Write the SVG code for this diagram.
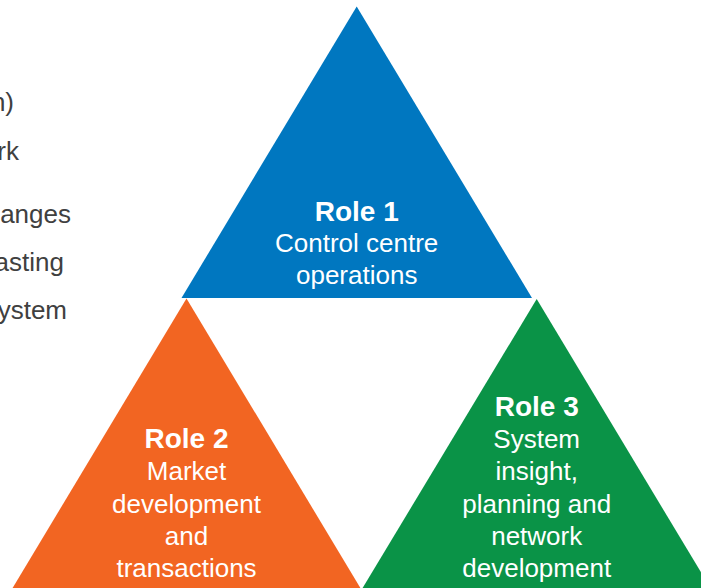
<svg xmlns="http://www.w3.org/2000/svg" width="701" height="588" viewBox="0 0 701 588">
  <style>
    .side { font-family: "Liberation Sans", Arial, sans-serif; font-size: 26px; fill: #404040; text-anchor: end; }
    .label { font-family: "Liberation Sans", Arial, sans-serif; fill: #ffffff; text-anchor: middle; }
    .title { font-size: 28px; font-weight: bold; }
    .body { font-size: 26px; }
  </style>
  <rect width="701" height="588" fill="#ffffff"/>

  <!-- list text clipped at the left edge -->
  <g id="side-list">
    <text class="side" x="14" y="111">n)</text>
    <text class="side" x="19" y="160">rk</text>
    <text class="side" x="71" y="223">anges</text>
    <text class="side" x="64" y="271">asting</text>
    <text class="side" x="67" y="319">ystem</text>
  </g>

  <g id="connectors"></g>

  <g id="role1">
    <polygon points="356.7,6.5 181.5,298 532,298" fill="#0077c0"/>
    <text class="label title" x="356.7" y="221">Role 1</text>
    <text class="label body" x="356.7" y="252">Control centre</text>
    <text class="label body" x="356.7" y="284">operations</text>
  </g>

  <g id="role2">
    <polygon points="186.5,298.5 12,589 361,589" fill="#f26522"/>
    <text class="label title" x="186.5" y="448">Role 2</text>
    <text class="label body" x="186.5" y="480">Market</text>
    <text class="label body" x="186.5" y="513">development</text>
    <text class="label body" x="186.5" y="545">and</text>
    <text class="label body" x="186.5" y="577">transactions</text>
  </g>

  <g id="role3">
    <polygon points="536.7,299 362,589 711,589" fill="#0a9347"/>
    <text class="label title" x="536.7" y="416">Role 3</text>
    <text class="label body" x="536.7" y="448">System</text>
    <text class="label body" x="536.7" y="480">insight,</text>
    <text class="label body" x="536.7" y="513">planning and</text>
    <text class="label body" x="536.7" y="545">network</text>
    <text class="label body" x="536.7" y="577">development</text>
  </g>
</svg>
